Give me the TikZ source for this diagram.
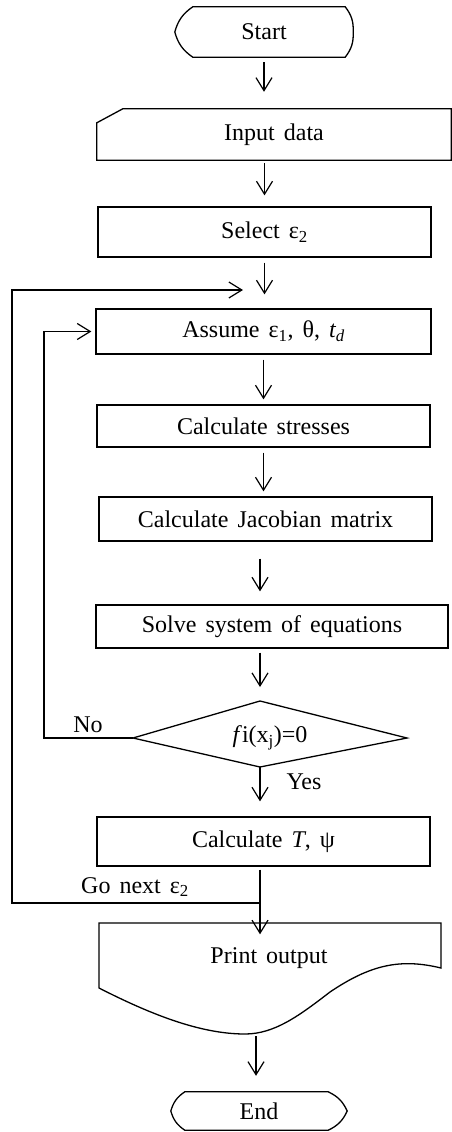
\documentclass[tikz,border=0pt]{standalone}
\usepackage{fontspec}
\setmainfont{Liberation Serif}[WordSpace=1.5]
\usetikzlibrary{arrows.meta}
\tikzset{
  lbl/.style={font=\fontsize{24}{28}\selectfont, inner sep=0pt},
  box/.style={draw, line width=1.3pt, inner sep=0pt, font=\fontsize{24}{28}\selectfont},
  shp/.style={inner sep=0pt, font=\fontsize{24}{28}\selectfont},
  outline/.style={line width=1.3pt},
  arr/.style={line width=1.2pt, -{Straight Barb[length=13pt,width=16pt,line width=1.2pt]}},
  ln/.style={line width=1.2pt}
}
\begin{document}
\begin{tikzpicture}[x=1pt,y=1pt]
\useasboundingbox (0,0) rectangle (452,-1132);

% Start
\node[shp, minimum width=178, minimum height=50] (start) at (264,-32) {Start};
\draw[outline] ([xshift=18]start.north west) -- ([xshift=-8]start.north east)
  to[bend left=20] (start.east) to[bend left=20] ([xshift=-8]start.south east)
  -- ([xshift=18]start.south west) to[bend left=20] (start.west)
  to[bend left=20] ([xshift=18]start.north west) -- cycle;

% Input data (manual input)
\node[shp, minimum width=354, minimum height=51] (input) at (274,-134.5) {Input data};
\draw[outline] (input.south west) -- ([yshift=-14]input.north west)
  -- ([xshift=26]input.north west) -- (input.north east) -- (input.south east) -- cycle;

% Process boxes
\node[box, minimum width=333, minimum height=50] (select) at (264.5,-232) {Select ε\textsubscript{2}};
\node[box, minimum width=335, minimum height=45] (assume) at (263.5,-331.5) {Assume ε\textsubscript{1}, θ, \textit{t\textsubscript{d}}};
\node[box, minimum width=333, minimum height=42] (stress) at (263.5,-426) {Calculate stresses};
\node[box, minimum width=333, minimum height=44] (jacob) at (265.5,-519) {Calculate Jacobian matrix};
\node[box, minimum width=352, minimum height=43] (solve) at (272,-626.5) {Solve system of equations};

% Decision
\coordinate (dl) at (133,-738);
\coordinate (dt) at (260,-701);
\coordinate (dr) at (407,-738);
\coordinate (db) at (260,-767);
\draw[outline] (dl) -- (dt) -- (dr) -- (db) -- cycle;
\node[shp] (dec) at (270,-738) {\textit{f}i(x\textsubscript{j})=0};

\node[box, minimum width=333, minimum height=49] (calct) at (263.5,-841.5) {Calculate \textit{T}, ψ};

% Print output (document)
\node[shp] (print) at (269,-958) {Print output};
\coordinate (pb) at (245,-1034);
\draw[outline] (99,-923) -- (441,-923) -- (441,-968)
  .. controls (400,-958) and (370,-965) .. (330,-992)
  .. controls (300,-1015) and (275,-1034) .. (pb)
  .. controls (200,-1034) and (150,-1014) .. (99,-988) -- cycle;

% End
\node[shp, minimum width=176, minimum height=38] (end) at (259,-1111) {End};
\draw[outline] ([xshift=14]end.north west) -- ([xshift=-19]end.north east)
  to[bend left=20] (end.east) to[bend left=20] ([xshift=-19]end.south east)
  -- ([xshift=14]end.south west) to[bend left=20] (end.west)
  to[bend left=20] ([xshift=14]end.north west) -- cycle;

% Main flow arrows
\draw[arr, shorten <=5pt, shorten >=17pt] (start.south) -- (start.south |- input.north);
\draw[arr, shorten <=3pt, shorten >=11pt] (select.north |- input.south) -- (select.north);
\draw[arr, shorten <=5pt, shorten >=14pt] (select.south) -- (select.south |- assume.north);
\draw[arr, shorten <=5pt, shorten >=5pt] (assume.south) -- (assume.south |- stress.north);
\draw[arr, shorten <=5pt, shorten >=5pt] (stress.south) -- (stress.south |- jacob.north);
\draw[arr, shorten <=17pt, shorten >=13pt] (dt |- jacob.south) -- (dt |- solve.north);
\draw[arr, shorten <=4pt, shorten >=14pt] (dt |- solve.south) -- (dt);
\draw[arr, shorten >=15pt] (db) -- (db |- calct.north);
\draw[arr, shorten <=3pt, shorten >=13pt] (db |- calct.south) -- (db |- print.north);
\draw[arr, shorten <=2pt, shorten >=16pt] ([xshift=11]pb) -- ([xshift=11]pb |- end.north);

% Labels
\node[lbl] (no) at (88,-725) {No};
\node[lbl] (yes) at (304,-782) {Yes};
\node[lbl] (gonext) at (135,-887) {Go next ε\textsubscript{2}};

% No loop
\coordinate (nc1) at (44,-738);
\coordinate (nc2) at (44,-331.5);
\draw[arr, shorten >=4pt] (dl) -- (nc1) -- (nc2) -- (assume.west);

% Go next loop
\coordinate (gn) at (260,-903);
\coordinate (oc1) at (12,-903);
\coordinate (oc2) at (12,-290);
\coordinate (oe) at (243,-290);
\draw[arr] (gn) -- (oc1) -- (oc2) -- (oe);
\end{tikzpicture}
\end{document}
